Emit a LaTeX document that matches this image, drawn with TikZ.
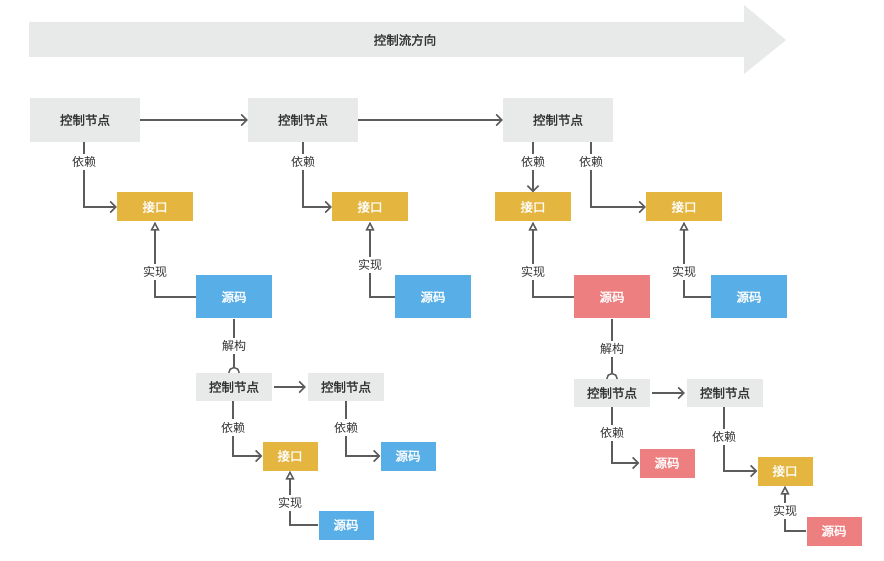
\documentclass[tikz,border=0pt]{standalone}
\usepackage{fontspec}
\setmainfont{Noto Sans CJK SC}[AutoFakeBold=2]
\usetikzlibrary{arrows.meta}
\definecolor{ctrlGray}{HTML}{E8E9E9}
\definecolor{ifaceYellow}{HTML}{E4B63F}
\definecolor{srcBlue}{HTML}{58AEE6}
\definecolor{srcRed}{HTML}{EE7F80}
\definecolor{lineGray}{HTML}{5C5C5C}
\definecolor{textDark}{HTML}{333333}
\tikzset{
  box/.style={inner sep=0pt, font=\bfseries\fontsize{12.5}{14}\selectfont},
  ctrl/.style={box, fill=ctrlGray, text=textDark},
  bigctrl/.style={ctrl, minimum width=110pt, minimum height=44pt},
  smallctrl/.style={ctrl, minimum width=76pt, minimum height=28pt},
  iface/.style={box, fill=ifaceYellow, text=white, minimum width=76pt, minimum height=29pt},
  smalliface/.style={iface, minimum width=55pt},
  srcblue/.style={box, fill=srcBlue, text=white, minimum width=76pt, minimum height=43pt},
  srcred/.style={srcblue, fill=srcRed},
  smallsrc/.style={srcblue, minimum width=55pt, minimum height=29pt},
  lbl/.style={fill=white, inner sep=2.5pt, text=textDark, font=\fontsize{12}{13}\selectfont},
  link/.style={draw=lineGray, line width=1.5pt},
  flow/.style={link, -{Straight Barb[length=5.5pt,width=11pt,line width=1.5pt]}},
  impl/.style={link, -{Triangle[open,length=9pt,width=9pt,fill=white,line width=1.5pt]}},
  decomp/.style={link, -{Arc Barb[reversed,length=6pt,width=12pt,line width=1.5pt]}}
}
\begin{document}
\begin{tikzpicture}[x=1pt, y=-1pt]
\useasboundingbox (0,0) rectangle (884,561);
% control flow direction band
\fill[ctrlGray] (29,22) -- (744,22) -- (744,5) -- (786,40) -- (744,74) -- (744,57) -- (29,57) -- cycle;
\node[box, text=textDark] (band) at (405,40) {控制流方向};

% top row
\node[bigctrl] (c1) at (85,120) {控制节点};
\node[bigctrl] (c2) at (303,120) {控制节点};
\node[bigctrl] (c3) at (558,120) {控制节点};
\node[iface] (i1) at (155,207) {接口};
\node[iface] (i2) at (370,207) {接口};
\node[iface] (i3) at (533,207) {接口};
\node[iface] (i4) at (684,207) {接口};
\node[srcblue] (s1) at (234,297) {源码};
\node[srcblue] (s2) at (433,297) {源码};
\node[srcred] (s3) at (612,297) {源码};
\node[srcblue] (s4) at (749,297) {源码};

% lower left
\node[smallctrl] (c4) at (234,387) {控制节点};
\node[smallctrl] (c5) at (346,387) {控制节点};
\node[smalliface] (i5) at (290,456) {接口};
\node[smallsrc] (s5) at (408,456) {源码};
\node[smallsrc] (s6) at (346,525) {源码};

% lower right
\node[smallctrl] (c6) at (612,393) {控制节点};
\node[smallctrl] (c7) at (725,393) {控制节点};
\node[smallsrc, fill=srcRed] (s7) at (667,463) {源码};
\node[smalliface] (i6) at (785,471) {接口};
\node[smallsrc, fill=srcRed] (s8) at (834,531) {源码};

% control flow
\draw[flow] (c1) -- (c2);
\draw[flow] (c2) -- (c3);
\draw[flow, shorten <=2pt, shorten >=2pt] (c4) -- (c5);
\draw[flow, shorten <=2pt, shorten >=2pt] (c6) -- (c7);

% dependencies
\draw[flow] ([xshift=-1pt]c1.south) |- node[lbl, pos=0.155] {依赖} (i1.west);
\draw[flow] (c2.south) |- node[lbl, pos=0.155] {依赖} (i2.west);
\draw[flow] ([xshift=-25pt]c3.south) -- node[lbl, pos=0.4] {依赖} ([xshift=-25pt]c3.south |- i3.north);
\draw[flow] ([xshift=33pt]c3.south) |- node[lbl, pos=0.155] {依赖} (i4.west);
\draw[flow] ([xshift=-1pt]c4.south) |- node[lbl, pos=0.24] {依赖} (i5.west);
\draw[flow] (c5.south) |- node[lbl, pos=0.24] {依赖} (s5.west);
\draw[flow] (c6.south) |- node[lbl, pos=0.23] {依赖} (s7.west);
\draw[flow] ([xshift=-1pt]c7.south) |- node[lbl, pos=0.235] {依赖} (i6.west);

% implementations
\draw[impl] (s1.west) -| node[lbl, pos=0.665] {实现} (i1.south);
\draw[impl] (s2.west) -| node[lbl, pos=0.71] {实现} (i2.south);
\draw[impl] (s3.west) -| node[lbl, pos=0.665] {实现} (i3.south);
\draw[impl] (s4.west) -| node[lbl, pos=0.665] {实现} (i4.south);
\draw[impl] (s6.west) -| node[lbl, pos=0.7] {实现} (i5.south);
\draw[impl] (s8.west) -| node[lbl, pos=0.72] {实现} (i6.south);

% decomposition
\draw[decomp] (s1.south) -- node[lbl] {解构} (c4.north);
\draw[decomp] (s3.south) -- node[lbl] {解构} (c6.north);
\end{tikzpicture}
\end{document}
